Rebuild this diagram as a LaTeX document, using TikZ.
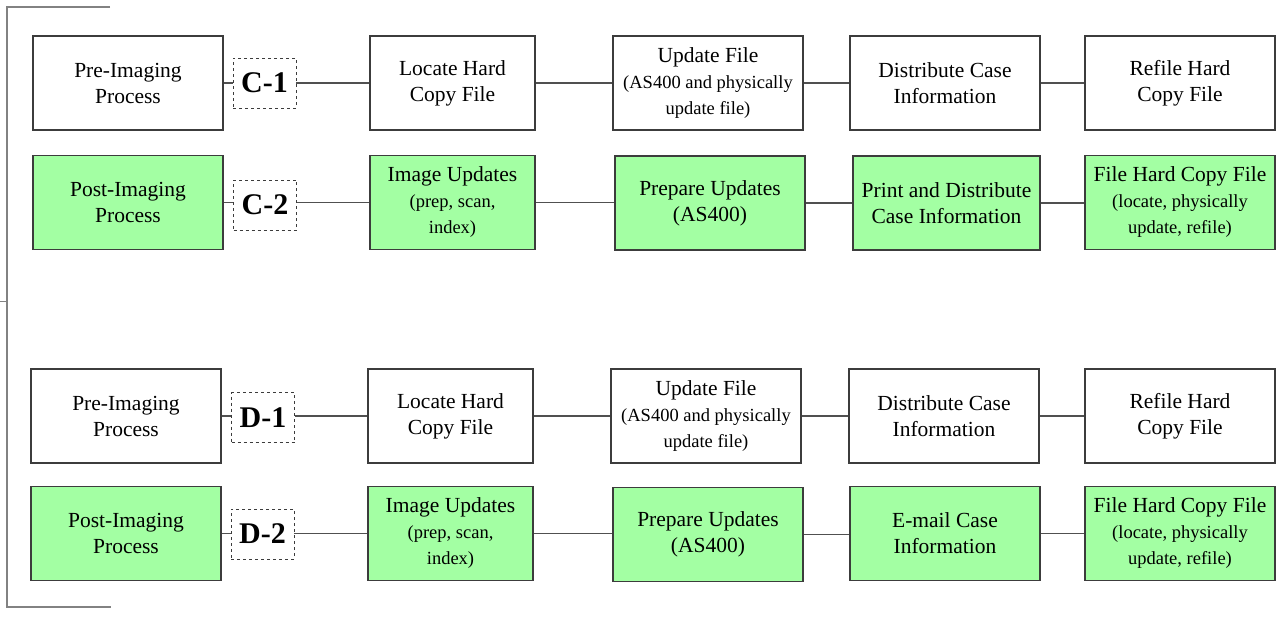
\documentclass[tikz,border=0pt]{standalone}
\usepackage{fontspec}
\setmainfont{Liberation Serif}
\newcommand\subf{\fontsize{18.5}{23.5}\selectfont}
\newcommand\mainf{\fontsize{21.5}{26}\selectfont}
\definecolor{boxgreen}{RGB}{163,255,163}
\definecolor{edge}{RGB}{60,60,60}
\definecolor{conn}{RGB}{80,80,80}
\definecolor{brk}{RGB}{130,130,130}
\newcommand\hlink[2]{\draw[link] (#1.east) -- (#1.east -| #2.west);}
\newcommand\tlink[3]{\draw[link] (#1.east) -- (#1.east -| #2.west); \draw[link] (#1.east -| #2.east) -- (#1.east -| #3.west);}
\begin{document}
\begin{tikzpicture}[x=1pt,y=-1pt,
  proc/.style={draw=edge,line width=1.3pt,minimum height=94pt,inner sep=2pt,align=center,font=\mainf},
  wide/.style={proc,minimum width=190pt},
  narrow/.style={proc,minimum width=165pt},
  grn/.style={fill=boxgreen},
  tag/.style={draw=edge,dashed,line width=0.9pt,minimum width=63pt,minimum height=50pt,inner sep=0pt,font=\fontsize{30}{32}\selectfont\bfseries},
  link/.style={draw=conn,line width=1.1pt}]
\useasboundingbox (0,0) rectangle (1282,616);
% bracket
\draw[brk,line width=1.3pt] (110,7) -- (7,7) -- (7,607) -- (111,607);
\draw[brk,line width=1pt] (0,301) -- (7,301);
% Row C-1
\node[wide] (c1a) at (128,83) {Pre-Imaging\\Process};
\node[tag] (c1t) at (264.5,83) {C-1};
\node[narrow] (c1b) at (452.5,83) {Locate Hard\\Copy File};
\node[wide] (c1c) at (708,83) {Update File\\{\subf (AS400 and physically}\\{\subf update file)}};
\node[wide] (c1d) at (945,83) {Distribute Case\\Information};
\node[wide] (c1e) at (1180,83) {Refile Hard\\Copy File};
\tlink{c1a}{c1t}{c1b} \hlink{c1b}{c1c} \hlink{c1c}{c1d} \hlink{c1d}{c1e}
% Row C-2
\node[wide,grn] (c2a) at (128,202.5) {Post-Imaging\\Process};
\node[tag] (c2t) at (265,205) {C-2};
\node[narrow,grn] (c2b) at (452.5,202.5) {Image Updates\\{\subf (prep, scan,}\\{\subf index)}};
\node[wide,grn] (c2c) at (710,203) {Prepare Updates\\(AS400)};
\node[wide,grn,minimum width=187pt] (c2d) at (946.5,203) {Print and Distribute\\Case Information};
\node[wide,grn] (c2e) at (1180,202.5) {File Hard Copy File\\{\subf (locate, physically}\\{\subf update, refile)}};
\tlink{c2a}{c2t}{c2b} \hlink{c2b}{c2c} \hlink{c2c}{c2d} \hlink{c2d}{c2e}
% Row D-1
\node[wide] (d1a) at (126,416) {Pre-Imaging\\Process};
\node[tag] (d1t) at (263,417.5) {D-1};
\node[narrow] (d1b) at (450.5,416) {Locate Hard\\Copy File};
\node[wide] (d1c) at (706,416) {Update File\\{\subf (AS400 and physically}\\{\subf update file)}};
\node[wide] (d1d) at (944,416) {Distribute Case\\Information};
\node[wide] (d1e) at (1180,416) {Refile Hard\\Copy File};
\tlink{d1a}{d1t}{d1b} \hlink{d1b}{d1c} \hlink{d1c}{d1d} \hlink{d1d}{d1e}
% Row D-2
\node[wide,grn] (d2a) at (126,533.5) {Post-Imaging\\Process};
\node[tag] (d2t) at (262.5,534) {D-2};
\node[narrow,grn] (d2b) at (450.5,533.5) {Image Updates\\{\subf (prep, scan,}\\{\subf index)}};
\node[wide,grn] (d2c) at (708,534.5) {Prepare Updates\\(AS400)};
\node[wide,grn] (d2d) at (945,533.5) {E-mail Case\\Information};
\node[wide,grn] (d2e) at (1180,533.5) {File Hard Copy File\\{\subf (locate, physically}\\{\subf update, refile)}};
\tlink{d2a}{d2t}{d2b} \hlink{d2b}{d2c} \hlink{d2c}{d2d} \hlink{d2d}{d2e}
\end{tikzpicture}
\end{document}
